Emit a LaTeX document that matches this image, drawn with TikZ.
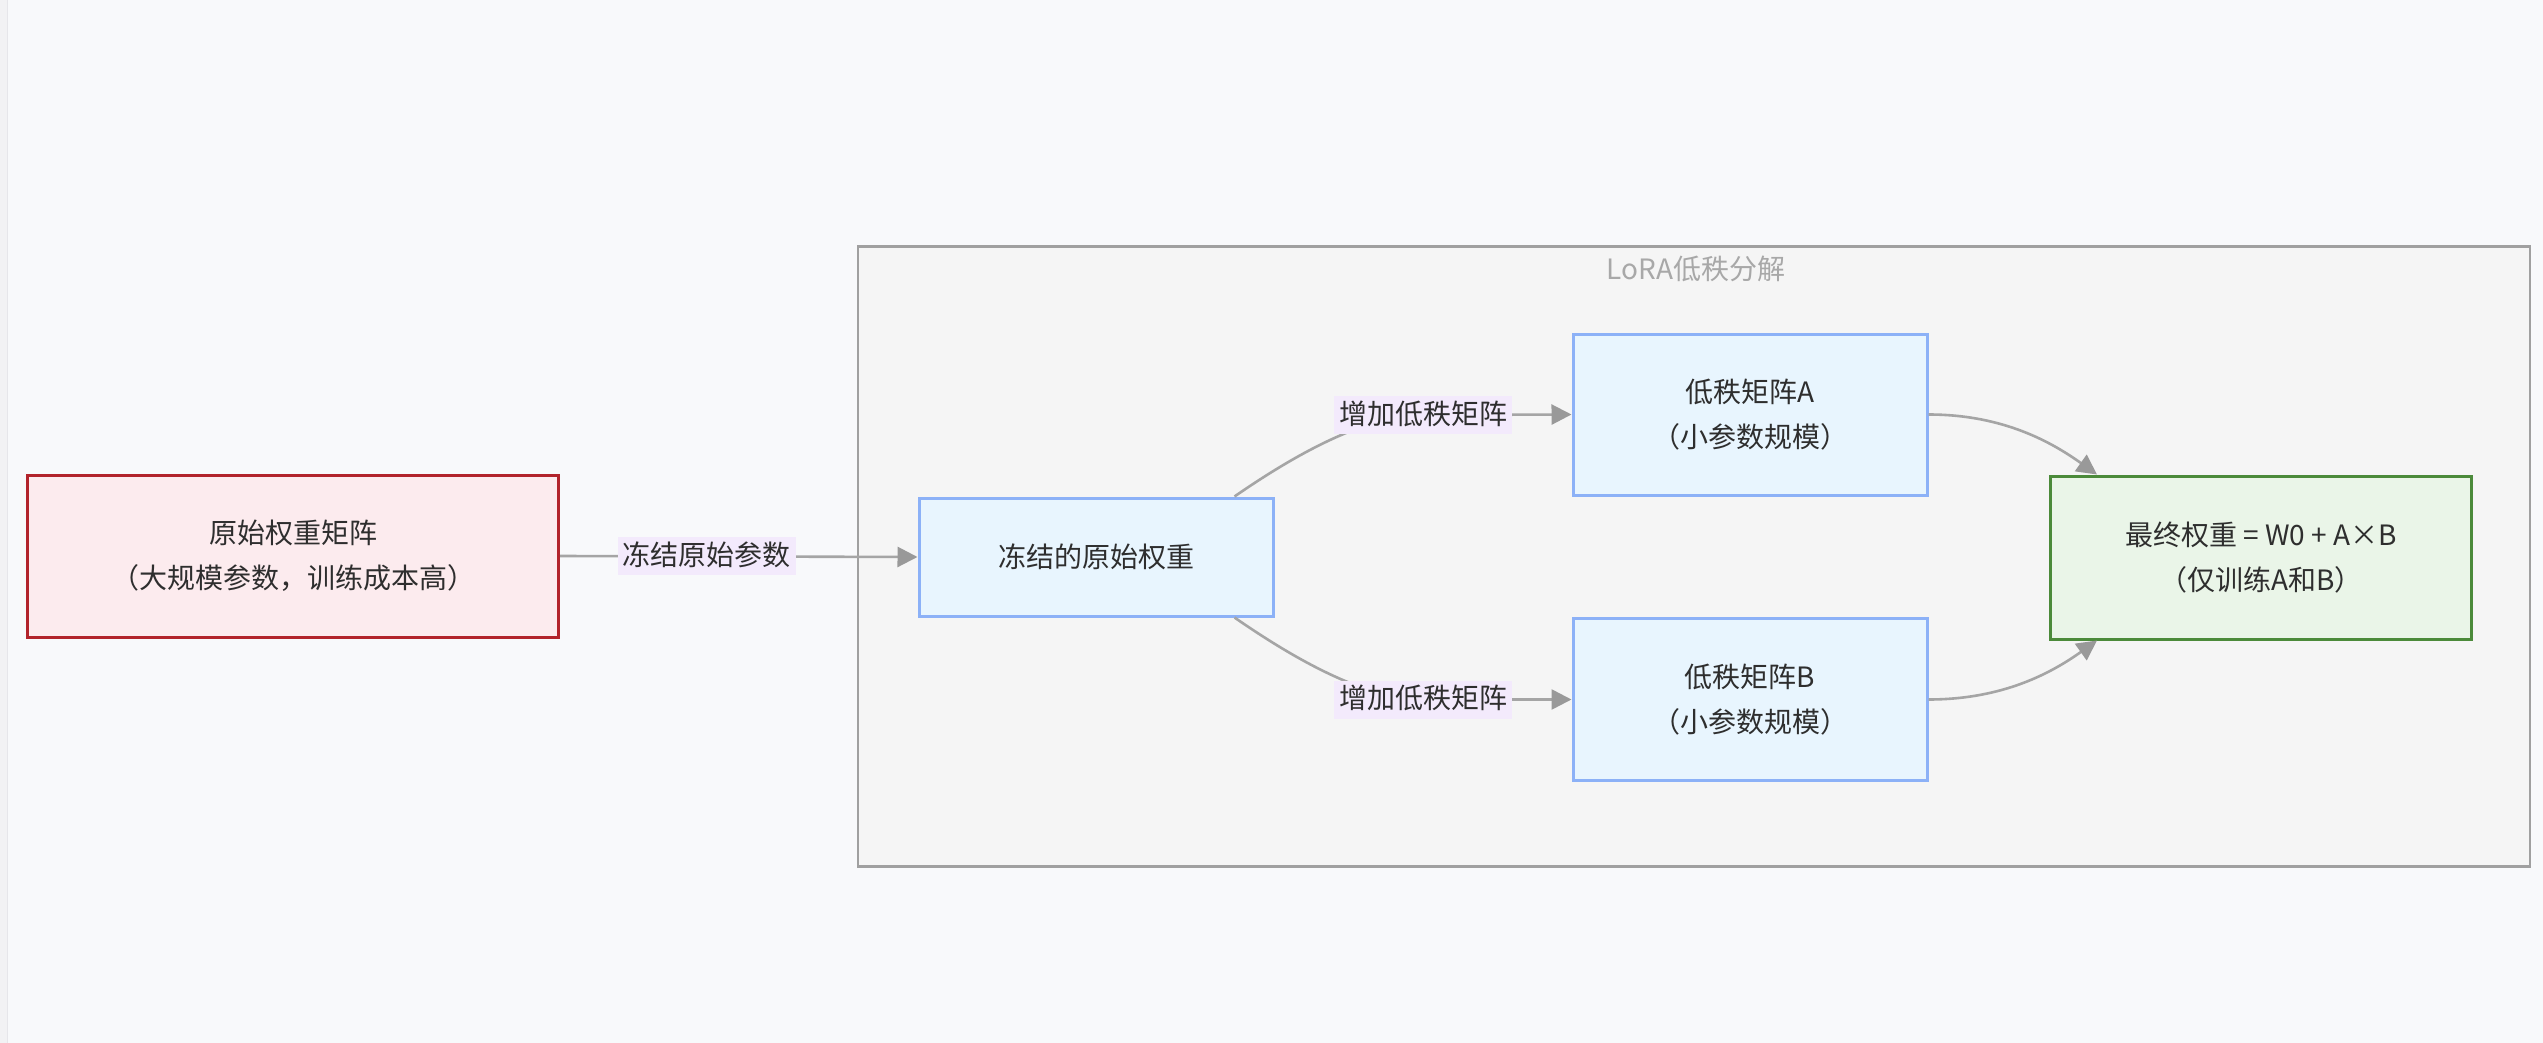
\documentclass[tikz,border=0pt]{standalone}
\usepackage{fontspec}
\setmainfont{Noto Sans CJK SC}
\usetikzlibrary{arrows.meta,calc}
\definecolor{bgc}{HTML}{F8F9FB}
\definecolor{stripc}{HTML}{F2F2F4}
\definecolor{stripline}{HTML}{E6E6EA}
\definecolor{redfill}{HTML}{FCEBEE}
\definecolor{redline}{HTML}{B2232B}
\definecolor{bluefill}{HTML}{E8F5FE}
\definecolor{blueline}{HTML}{8CB1F7}
\definecolor{greenfill}{HTML}{EAF5E8}
\definecolor{greenline}{HTML}{4B8A3A}
\definecolor{subfill}{HTML}{F5F5F5}
\definecolor{subline}{HTML}{A0A0A0}
\definecolor{edgec}{HTML}{A5A5A5}
\definecolor{tipc}{HTML}{999999}
\definecolor{lblfill}{HTML}{F3EAFC}
\definecolor{txt}{HTML}{2E2E2E}
\definecolor{titlec}{HTML}{A8A8A8}
\begin{document}
\begin{tikzpicture}[x=1pt,y=-1pt,
  every node/.style={font=\fontsize{28pt}{45pt}\selectfont, text=txt},
  box/.style={draw, line width=3pt, align=center, inner sep=0pt},
  redbox/.style={box, fill=redfill, draw=redline},
  bluebox/.style={box, fill=bluefill, draw=blueline},
  greenbox/.style={box, fill=greenfill, draw=greenline},
  edge/.style={draw=edgec, line width=2.6pt, -{Triangle[length=20pt,width=20pt,fill=tipc,color=tipc]}},
  lbl/.style={fill=lblfill, inner xsep=5pt, inner ysep=0pt, text height=28pt, text depth=10pt}
]
\useasboundingbox (0,0) rectangle (2543,1043);
\fill[bgc] (0,0) rectangle (2543,1043);
\fill[stripc] (0,0) rectangle (7,1043);
\draw[stripline, line width=1.5pt] (7.5,0) -- (7.5,1043);

% subgraph
\node[draw=subline, fill=subfill, line width=2.5pt, minimum width=1672pt, minimum height=620pt, inner sep=0pt] (sub) at (1694,556.5) {};
\node[text=titlec] (title) at (1696,269) {LoRA低秩分解};

% nodes
\node[redbox, minimum width=531pt, minimum height=162pt] (orig) at (293,556) {原始权重矩阵\\（大规模参数，训练成本高）};
\node[bluebox, minimum width=354pt, minimum height=118pt] (frozen) at (1096,557) {冻结的原始权重};
\node[bluebox, minimum width=354pt, minimum height=161pt] (A) at (1750,414.5) {低秩矩阵A\\（小参数规模）};
\node[bluebox, minimum width=354pt, minimum height=162pt] (B) at (1750,699.5) {低秩矩阵B\\（小参数规模）};
\node[greenbox, minimum width=421pt, minimum height=163pt] (final) at (2261,557.5) {最终权重 = W0 + A×B\\（仅训练A和B）};

% edges
\draw[edge] (orig.east) -- node[lbl, pos=0.41] {冻结原始参数} (frozen.west);

\draw[edge] ([xshift=-40pt]frozen.north east) .. controls +(55,-38) and +(-60,0) .. (1423,415) node[lbl] {增加低秩矩阵} -- (A.west);
\draw[edge] ([xshift=-40pt]frozen.south east) .. controls +(55,38) and +(-60,0) .. (1423,699.5) node[lbl] {增加低秩矩阵} -- (B.west);

\draw[edge] (A.east) .. controls +(75,0) and +(-45,-32) .. ([xshift=48pt]final.north west);
\draw[edge] (B.east) .. controls +(75,0) and +(-45,32) .. ([xshift=48pt]final.south west);
\end{tikzpicture}
\end{document}
